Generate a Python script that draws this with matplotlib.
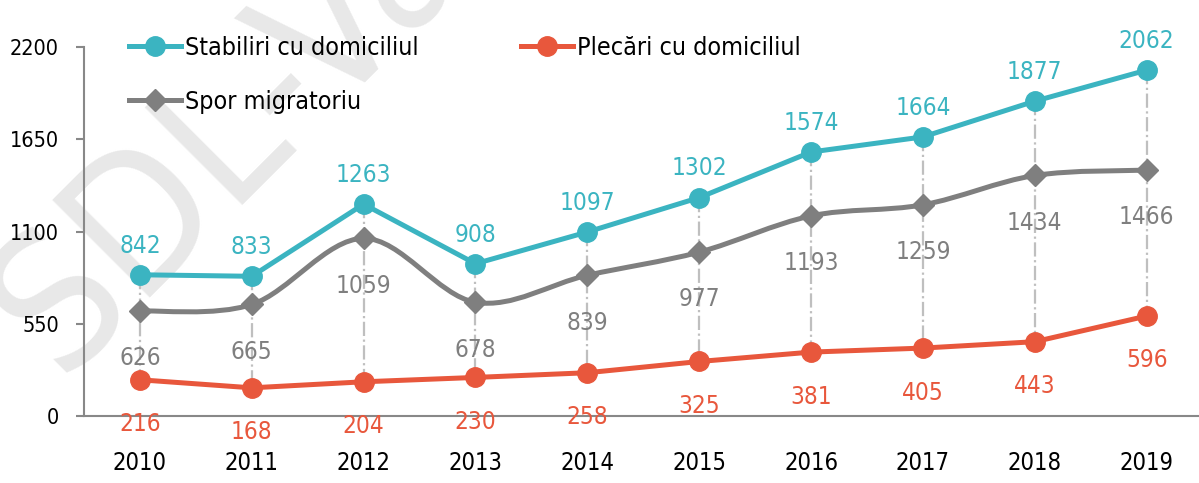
import matplotlib
matplotlib.use("Agg")
import matplotlib.pyplot as plt
from matplotlib.path import Path
from matplotlib.patches import PathPatch
import numpy as np

plt.rcParams['font.family'] = ['DejaVu Sans']
plt.rcParams['font.stretch'] = 'condensed'

# data
years = ['2010', '2011', '2012', '2013', '2014', '2015', '2016', '2017', '2018', '2019']
stabiliri = [842, 833, 1263, 908, 1097, 1302, 1574, 1664, 1877, 2062]
plecari = [216, 168, 204, 230, 258, 325, 381, 405, 443, 596]
spor = [626, 665, 1059, 678, 839, 977, 1193, 1259, 1434, 1466]
yticks = [0, 550, 1100, 1650, 2200]

teal = '#3BB4C1'
red = '#E8573C'
gray = '#7F7F7F'

fig = plt.figure(figsize=(11.99, 4.83), dpi=100)
ax = fig.add_axes([0.070, 0.1387, 0.933, 0.764])
ax.set_facecolor('none')

# watermark behind the chart
fig.text(60 / 1199, 1 - 377 / 483, 'SDL-Vaslui', fontsize=136, color='#E8E8E8',
         rotation=45, ha='left', va='baseline', rotation_mode='anchor', zorder=-1)

x = np.arange(len(years))

# drop lines
for xi, top, bot in zip(x, stabiliri, plecari):
    ax.plot([xi, xi], [top, bot], color='#BFBFBF', lw=1.6, ls='-.', zorder=1)

# smoothed gray line (Excel-like bezier)
verts = [(x[0], spor[0])]
codes = [Path.MOVETO]
n = len(x)
for i in range(n - 1):
    p0 = np.array([x[max(i - 1, 0)], spor[max(i - 1, 0)]], float)
    p1 = np.array([x[i], spor[i]], float)
    p2 = np.array([x[i + 1], spor[i + 1]], float)
    p3 = np.array([x[min(i + 2, n - 1)], spor[min(i + 2, n - 1)]], float)
    c1 = p1 + (p2 - p0) / 6
    c2 = p2 - (p3 - p1) / 6
    verts += [tuple(c1), tuple(c2), tuple(p2)]
    codes += [Path.CURVE4] * 3
ax.add_patch(PathPatch(Path(verts, codes), fill=False, ec=gray, lw=3.6, zorder=2,
                       clip_on=False))
ax.plot(x, spor, ls='none', marker='D', ms=11, color=gray, zorder=3, clip_on=False)

ax.plot(x, stabiliri, color=teal, lw=3.6, marker='o', ms=14, zorder=3, clip_on=False)
ax.plot(x, plecari, color=red, lw=3.6, marker='o', ms=14, zorder=3, clip_on=False)

# legend handles
h1, = ax.plot([], [], color=teal, lw=3.6, marker='o', ms=14)
h2, = ax.plot([], [], color=gray, lw=3.6, marker='D', ms=11)
h3, = ax.plot([], [], color=red, lw=3.6, marker='o', ms=14)
ax.legend([h1, h2, h3], ['Stabiliri cu domiciliul', 'Spor migratoriu', 'Plecări cu domiciliul'],
          ncol=2, frameon=False, loc='upper left', bbox_to_anchor=(0.031, 1.057),
          fontsize=18, handlelength=2.1, handletextpad=0.15, columnspacing=4.1,
          labelspacing=1.2, borderaxespad=0)

for xi, v in zip(x, stabiliri):
    ax.annotate(str(v), (xi, v), xytext=(0, 21), textcoords='offset points',
                ha='center', va='center', fontsize=17.5, color=teal)
for xi, v in zip(x, spor):
    ax.annotate(str(v), (xi, v), xytext=(0, -34), textcoords='offset points',
                ha='center', va='center', fontsize=17.5, color=gray)
for xi, v in zip(x, plecari):
    ax.annotate(str(v), (xi, v), xytext=(0, -32), textcoords='offset points',
                ha='center', va='center', fontsize=17.5, color=red)

ax.set_xlim(-0.5, len(years) - 0.5)
ax.set_ylim(0, 2200)
ax.set_xticks(x)
ax.set_xticklabels(years)
ax.set_yticks(yticks)
ax.tick_params(axis='x', length=0, labelsize=17, pad=25)
ax.tick_params(axis='y', length=6, width=1.5, color='#888888', labelsize=15.5, pad=12)
for s in ['top', 'right']:
    ax.spines[s].set_visible(False)
for s in ['left', 'bottom']:
    ax.spines[s].set_color('#888888')
    ax.spines[s].set_linewidth(1.5)

fig.savefig('out.png', dpi=100)
